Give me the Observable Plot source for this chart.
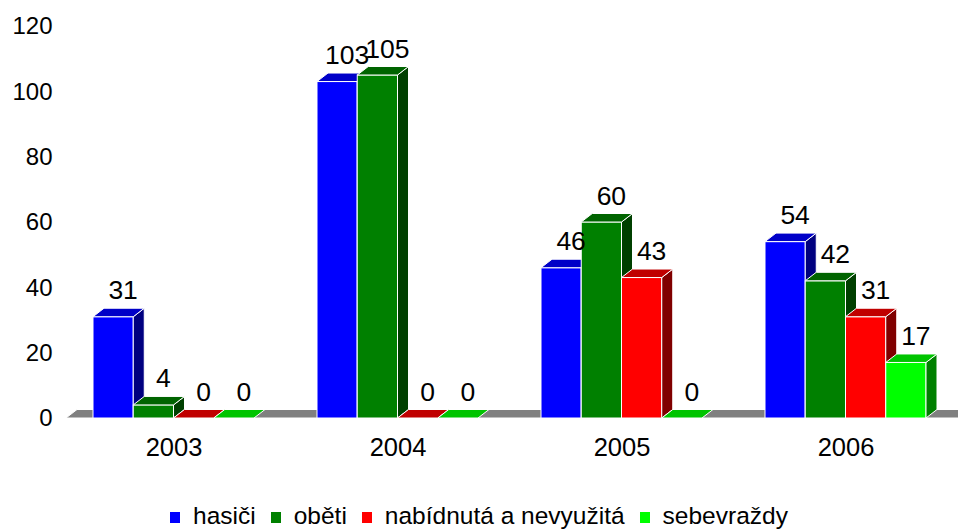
<!DOCTYPE html>
<html>
<head>
<meta charset="utf-8">
<script src="https://cdn.jsdelivr.net/npm/d3@7"></script>
<script src="https://cdn.jsdelivr.net/npm/@observablehq/plot@0.6"></script>
<style>
  body { margin: 0; background: #fff; font-family: "Liberation Sans", Arial, sans-serif; }
  #wrap { position: relative; width: 958px; height: 531px; overflow: hidden; background: #fff; }
  #legend { position: absolute; left: 0; top: 502px; width: 958px; display: flex; justify-content: center; align-items: center; gap: 15px; font-size: 24.5px; line-height: 28px; color: #000; }
  #legend .item { display: flex; align-items: center; }
  #legend .sw { width: 10px; height: 11px; margin-right: 13px; margin-top: 3px; }
</style>
</head>
<body>
<div id="wrap"><div id="chart"></div><div id="legend"></div></div>
<script>
// ---- data ----
const years = ["2003", "2004", "2005", "2006"];
const series = ["hasiči", "oběti", "nabídnutá a nevyužitá", "sebevraždy"];
const hasici = [31, 103, 46, 54];
const obeti = [4, 105, 60, 42];
const nabidnuta = [0, 0, 43, 31];
const sebevrazdy = [0, 0, 0, 17];
const yTicks = [0, 20, 40, 60, 80, 100, 120];

// ---- styles ----
const frontColors = ["#0000FF", "#008000", "#FF0000", "#00FF00"];
const topColors   = ["#0000C8", "#006400", "#C00000", "#00C400"];
const sideColors  = ["#000080", "#004000", "#800000", "#008000"];
const DX = 11, DY = 8.5;         // 3D depth offset (px)
const FONT = "Liberation Sans, Arial, sans-serif";

const seriesValues = [hasici, obeti, nabidnuta, sebevrazdy];
const rows = [];
years.forEach((yr, i) => series.forEach((s, j) => rows.push({year: yr, series: s, value: seriesValues[j][i]})));

function poly(g, pts, fill) {
  g.append("polygon")
    .attr("points", pts.map(p => p.join(",")).join(" "))
    .attr("fill", fill).attr("stroke", "#fff").attr("stroke-width", 1).attr("stroke-linejoin", "round");
}

function floorRender(index, scales) {
  const x = scales.x, y = scales.y;
  const [r0, r1] = x.range();
  const y0 = y(0);
  const g = d3.create("svg:g");
  const xl = r0 + 4, xr = r1 + 20;
  poly(g, [[xl, y0], [xr, y0], [xr + DX, y0 - DY], [xl + DX, y0 - DY]], "#808080");
  return g.node();
}

function barsRender(index, scales) {
  const x = scales.x, y = scales.y;
  const bw = x.bandwidth();
  const y0 = y(0);
  const g = d3.create("svg:g");
  for (const i of index) {
    const d = rows[i];
    const sub = d3.scaleBand().domain(series).range([x(d.year), x(d.year) + bw]);
    const j = series.indexOf(d.series);
    const x0 = sub(d.series), w = sub.bandwidth(), yt = y(d.value);
    if (d.value > 0) {
      g.append("rect").attr("x", x0).attr("y", yt).attr("width", w).attr("height", y0 - yt)
        .attr("fill", frontColors[j]).attr("stroke", "#fff").attr("stroke-width", 1);
      poly(g, [[x0 + w, yt], [x0 + w + DX, yt - DY], [x0 + w + DX, y0 - DY], [x0 + w, y0]], sideColors[j]);
    }
    poly(g, [[x0, yt], [x0 + w, yt], [x0 + w + DX, yt - DY], [x0 + DX, yt - DY]], topColors[j]);
  }
  return g.node();
}

function labelsRender(index, scales) {
  const x = scales.x, y = scales.y;
  const bw = x.bandwidth();
  const g = d3.create("svg:g").attr("font-family", FONT).attr("font-size", 26.5).attr("text-anchor", "middle").attr("fill", "#000");
  for (const i of index) {
    const d = rows[i];
    const sub = d3.scaleBand().domain(series).range([x(d.year), x(d.year) + bw]);
    const x0 = sub(d.series), w = sub.bandwidth(), yt = y(d.value);
    g.append("text").attr("x", x0 + w / 2 + 10).attr("y", yt - DY - 9).text(d.value);
  }
  return g.node();
}

const H = 500;
const chart = Plot.plot({
  width: 958,
  height: H,
  marginLeft: 62,
  marginRight: 0,
  marginTop: 26,
  marginBottom: H - 418,
  style: {fontFamily: FONT, background: "#fff", color: "#000"},
  x: {domain: years, paddingInner: 0.28, paddingOuter: 0.14, label: null},
  y: {domain: [0, 120], label: null},
  marks: [
    Plot.ruleY([0], {render: floorRender}),
    Plot.barY(rows, {x: "year", y1: 0, y2: "value", render: barsRender}),
    Plot.barY(rows, {x: "year", y1: 0, y2: "value", render: labelsRender}),
    Plot.axisY(yTicks, {tickSize: 0, tickPadding: 10, fontSize: 24, label: null}),
    Plot.axisX({tickSize: 0, tickPadding: 19, fontSize: 25.5, label: null})
  ]
});
document.getElementById("chart").appendChild(chart);

const legend = document.getElementById("legend");
series.forEach((s, j) => {
  const item = document.createElement("div");
  item.className = "item";
  const sw = document.createElement("span");
  sw.className = "sw";
  sw.style.background = frontColors[j];
  const t = document.createElement("span");
  t.textContent = s;
  item.appendChild(sw); item.appendChild(t);
  legend.appendChild(item);
});
</script>
</body>
</html>
